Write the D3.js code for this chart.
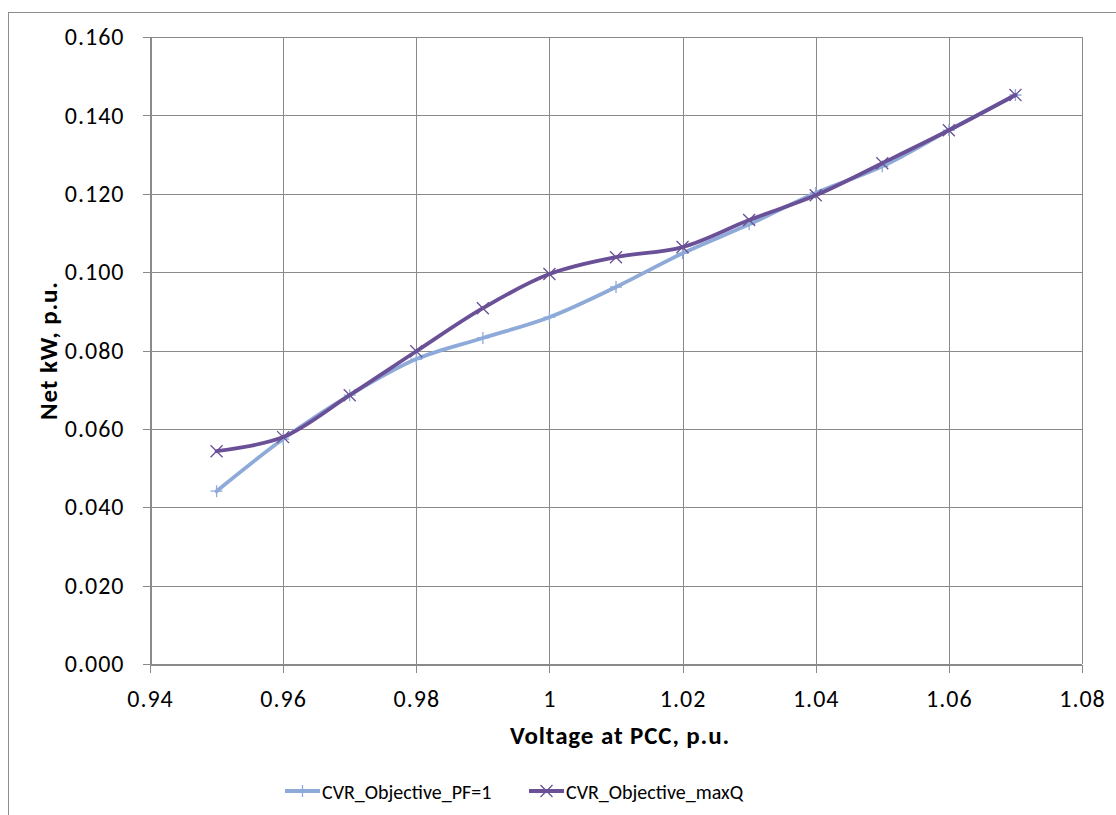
<!DOCTYPE html>
<html>
<head>
<meta charset="utf-8">
<script src="https://cdn.jsdelivr.net/npm/d3@7"></script>
<style>
  body { margin: 0; background: #fff; }
  svg { display: block; font-family: Carlito, Lato, "Open Sans", sans-serif; }
</style>
</head>
<body>
<div class="playground"></div>
<script>
// values
var voltage   = [0.95, 0.96, 0.97, 0.98, 0.99, 1.00, 1.01, 1.02, 1.03, 1.04, 1.05, 1.06, 1.07];
var pfOne     = [0.0441, 0.0574, 0.0686, 0.0778, 0.0832, 0.0885, 0.0962, 0.1048, 0.1122, 0.1202, 0.1270, 0.1362, 0.1452];
var maxQ      = [0.0543, 0.0579, 0.0686, 0.0798, 0.0908, 0.0995, 0.1038, 0.1064, 0.1133, 0.1196, 0.1278, 0.1362, 0.1452];
var seriesNames = ["CVR_Objective_PF=1", "CVR_Objective_maxQ"];
var xTicks    = [0.94, 0.96, 0.98, 1.00, 1.02, 1.04, 1.06, 1.08];
var yTicks    = [0, 0.02, 0.04, 0.06, 0.08, 0.10, 0.12, 0.14, 0.16];

var width  = 1116,
    height = 815;

var margin = {left: 150, top: 37, right: 1116 - 1082, bottom: 815 - 664};

var colors = ["#8eaad8", "#6a5096"];
var gridColor = "#8a8a8a";

var svg = d3.select(".playground")
            .append("svg")
            .attr("width", width)
            .attr("height", height);

// outer chart border (cropped on right/bottom like the reference)
svg.append("rect")
   .attr("x", 8.5).attr("y", 12.5)
   .attr("width", 1120).attr("height", 820)
   .attr("fill", "none")
   .attr("stroke", "#8c8c8c")
   .attr("stroke-width", 1);

var x = d3.scaleLinear()
          .domain([0.94, 1.08])
          .range([margin.left, width - margin.right]);

var y = d3.scaleLinear()
          .domain([0, 0.16])
          .range([height - margin.bottom, margin.top]);

// gridlines
svg.append("g")
   .selectAll("line")
   .data(yTicks)
   .enter()
   .append("line")
   .attr("x1", x(0.94)).attr("x2", x(1.08))
   .attr("y1", function(d) { return Math.round(y(d)) + 0.5; })
   .attr("y2", function(d) { return Math.round(y(d)) + 0.5; })
   .attr("stroke", gridColor);

svg.append("g")
   .selectAll("line")
   .data(xTicks)
   .enter()
   .append("line")
   .attr("y1", y(0.16)).attr("y2", y(0))
   .attr("x1", function(d) { return Math.round(x(d)) + 0.5; })
   .attr("x2", function(d) { return Math.round(x(d)) + 0.5; })
   .attr("stroke", gridColor);

// axes
var xAxis = d3.axisBottom(x)
              .tickValues(xTicks)
              .tickSizeOuter(0)
              .tickSize(8)
              .tickPadding(17)
              .tickFormat(function(d) { return d === 1 ? "1" : d3.format(".2f")(d); });

var yAxis = d3.axisLeft(y)
              .tickValues(yTicks)
              .tickSizeOuter(0)
              .tickSize(8)
              .tickPadding(18)
              .tickFormat(d3.format(".3f"));

var gx = svg.append("g")
            .attr("transform", "translate(0," + (Math.round(y(0)) + 0.5) + ")")
            .call(xAxis);

var gy = svg.append("g")
            .attr("transform", "translate(" + (Math.round(x(0.94)) + 0.5) + ",0)")
            .call(yAxis);

[gx, gy].forEach(function(g) {
  g.selectAll("path, line").attr("stroke", gridColor).attr("shape-rendering", "crispEdges");
  g.selectAll("text").attr("font-size", 24).attr("fill", "#000")
   .attr("letter-spacing", 1)
   .attr("font-family", "Carlito, Lato, 'Open Sans', sans-serif");
});

// axis titles
svg.append("text")
   .attr("x", 620)
   .attr("y", 744)
   .attr("text-anchor", "middle")
   .attr("font-weight", "bold")
   .attr("font-size", 25)
   .attr("letter-spacing", 0.9)
   .text("Voltage at PCC, p.u.");

svg.append("text")
   .attr("transform", "translate(57," + ((y(0) + y(0.16)) / 2) + ") rotate(-90)")
   .attr("text-anchor", "middle")
   .attr("font-weight", "bold")
   .attr("font-size", 25)
   .attr("letter-spacing", 0.9)
   .text("Net kW, p.u.");

// series
var series = [pfOne, maxQ].map(function(vals, i) {
  return {
    name: seriesNames[i],
    color: colors[i],
    marker: i === 0 ? "plus" : "cross",
    points: voltage.map(function(v, j) { return [v, vals[j]]; })
  };
});

var line = d3.line()
             .x(function(d) { return x(d[0]); })
             .y(function(d) { return y(d[1]); })
             .curve(d3.curveCatmullRom.alpha(0.5));

function markerPath(type, s) {
  if (type === "plus") {
    return "M" + (-s) + ",0L" + s + ",0M0," + (-s) + "L0," + s;
  }
  return "M" + (-s) + "," + (-s) + "L" + s + "," + s + "M" + (-s) + "," + s + "L" + s + "," + (-s);
}

series.forEach(function(s) {
  svg.append("path")
     .datum(s.points)
     .attr("d", line)
     .attr("fill", "none")
     .attr("stroke", s.color)
     .attr("stroke-width", 3.8)
     .attr("stroke-linejoin", "round")
     .attr("stroke-linecap", "round");

  svg.append("g")
     .selectAll("path")
     .data(s.points)
     .enter()
     .append("path")
     .attr("transform", function(d) { return "translate(" + x(d[0]) + "," + y(d[1]) + ")"; })
     .attr("d", markerPath(s.marker, 6))
     .attr("stroke", s.color)
     .attr("stroke-width", 1.3)
     .attr("fill", "none");
});

// legend
var legendX = [285, 529];
series.forEach(function(s, i) {
  var lg = svg.append("g").attr("transform", "translate(" + legendX[i] + ",791)");
  lg.append("line")
    .attr("x1", 0).attr("x2", 35)
    .attr("stroke", s.color)
    .attr("stroke-width", 3.8);
  lg.append("path")
    .attr("transform", "translate(17.5,0)")
    .attr("d", markerPath(s.marker, 6))
    .attr("stroke", s.color)
    .attr("stroke-width", 1.3);
  lg.append("text")
    .attr("x", 37)
    .attr("y", 8)
    .attr("font-size", 20)
    .attr("font-family", "Carlito, Lato, 'Open Sans', sans-serif")
    .text(s.name);
});
</script>
</body>
</html>
